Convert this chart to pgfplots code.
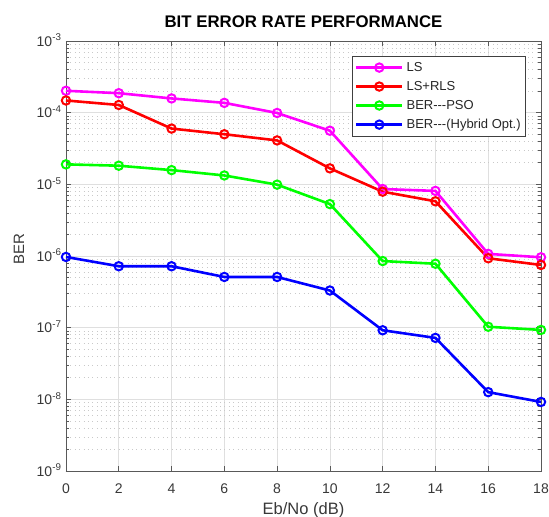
\documentclass[border=0pt]{standalone}
\usepackage{fontspec}
\setmainfont{Liberation Sans}
\usepackage{pgfplots}
\pgfplotsset{compat=1.18}
\definecolor{axgray}{gray}{0.35}
\definecolor{lblgray}{gray}{0.22}
\begin{document}
\begin{tikzpicture}
\begin{axis}[
  name=ax,
  scale only axis,
  width=475bp, height=430bp,
  ymode=log,
  xmin=0, xmax=18, ymin=1e-9, ymax=1e-3,
  xtick={0,2,...,18},
  ytick={1e-9,1e-8,1e-7,1e-6,1e-5,1e-4,1e-3},
  yticklabels={10\textsuperscript{-9},10\textsuperscript{-8},10\textsuperscript{-7},10\textsuperscript{-6},10\textsuperscript{-5},10\textsuperscript{-4},10\textsuperscript{-3}},
  /pgf/number format/assume math mode=true,
  ticklabel style={font=\fontsize{14bp}{16bp}\selectfont, text=lblgray},
  xticklabel style={anchor=base, yshift=-22bp},
  yticklabel style={anchor=base east, yshift=-5bp, xshift=-1bp},
  axis line style={axgray, line width=0.6bp},
  every tick/.style={axgray, line width=0.6bp},
  major tick length=5bp, minor tick length=3bp,
  xmajorgrids, ymajorgrids, yminorgrids,
  major grid style={gray!25, line width=0.6bp},
  minor grid style={gray!42, line width=0.6bp, dash pattern=on 0.8bp off 3.6bp},
  title={BIT ERROR RATE PERFORMANCE},
  title style={font=\bfseries\fontsize{16.8bp}{19bp}\selectfont, at={(0.5,1.0186)}, anchor=base},
  xlabel={Eb/No (dB)},
  xlabel style={font=\fontsize{16.5bp}{19bp}\selectfont, text=lblgray, at={(0.5,-0.1023)}, anchor=base},
  ylabel={BER},
  ylabel style={font=\fontsize{15bp}{18bp}\selectfont, text=lblgray, at={(-0.0884,0.515)}, anchor=base},
  legend cell align=left,
  legend image code/.code={\draw[mark repeat=2,mark phase=2] plot coordinates {(0bp,0bp) (23bp,0bp) (46bp,0bp)};},
  legend style={at={(0.9684,0.9651)}, anchor=north east, draw=black!75, line width=0.6bp,
    font=\fontsize{13bp}{15bp}\selectfont, text=black!85,
    inner xsep=3bp, inner ysep=4bp,
    /tikz/row sep=4.4bp,
    /tikz/every odd column/.append style={column sep=1bp}},
  every axis plot/.append style={line width=2.6bp, mark=o, mark size=4.2bp, mark options={line width=2bp, fill=none}},
]
\addplot[color={rgb,1:red,1;green,0;blue,1}] coordinates {(0,2.02e-4)(2,1.87e-4)(4,1.58e-4)(6,1.37e-4)(8,9.9e-5)(10,5.6e-5)(12,8.6e-6)(14,8.1e-6)(16,1.07e-6)(18,9.6e-7)};
\addlegendentry{LS}
\addplot[color={rgb,1:red,1;green,0;blue,0}] coordinates {(0,1.48e-4)(2,1.28e-4)(4,6.0e-5)(6,5.0e-5)(8,4.1e-5)(10,1.67e-5)(12,7.9e-6)(14,5.8e-6)(16,9.3e-7)(18,7.5e-7)};
\addlegendentry{LS+RLS}
\addplot[color={rgb,1:red,0;green,1;blue,0}] coordinates {(0,1.9e-5)(2,1.82e-5)(4,1.58e-5)(6,1.33e-5)(8,9.9e-6)(10,5.3e-6)(12,8.5e-7)(14,7.8e-7)(16,1.03e-7)(18,9.3e-8)};
\addlegendentry{BER-{}-{}-PSO}
\addplot[color={rgb,1:red,0;green,0;blue,1}] coordinates {(0,9.7e-7)(2,7.2e-7)(4,7.2e-7)(6,5.1e-7)(8,5.1e-7)(10,3.3e-7)(12,9.2e-8)(14,7.2e-8)(16,1.26e-8)(18,9.2e-9)};
\addlegendentry{BER-{}-{}-(Hybrid Opt.)}
\end{axis}
\pgfresetboundingbox
\path ([shift={(-66bp,-46bp)}]ax.south west) rectangle ([shift={(8bp,41bp)}]ax.north east);
\end{tikzpicture}
\end{document}
